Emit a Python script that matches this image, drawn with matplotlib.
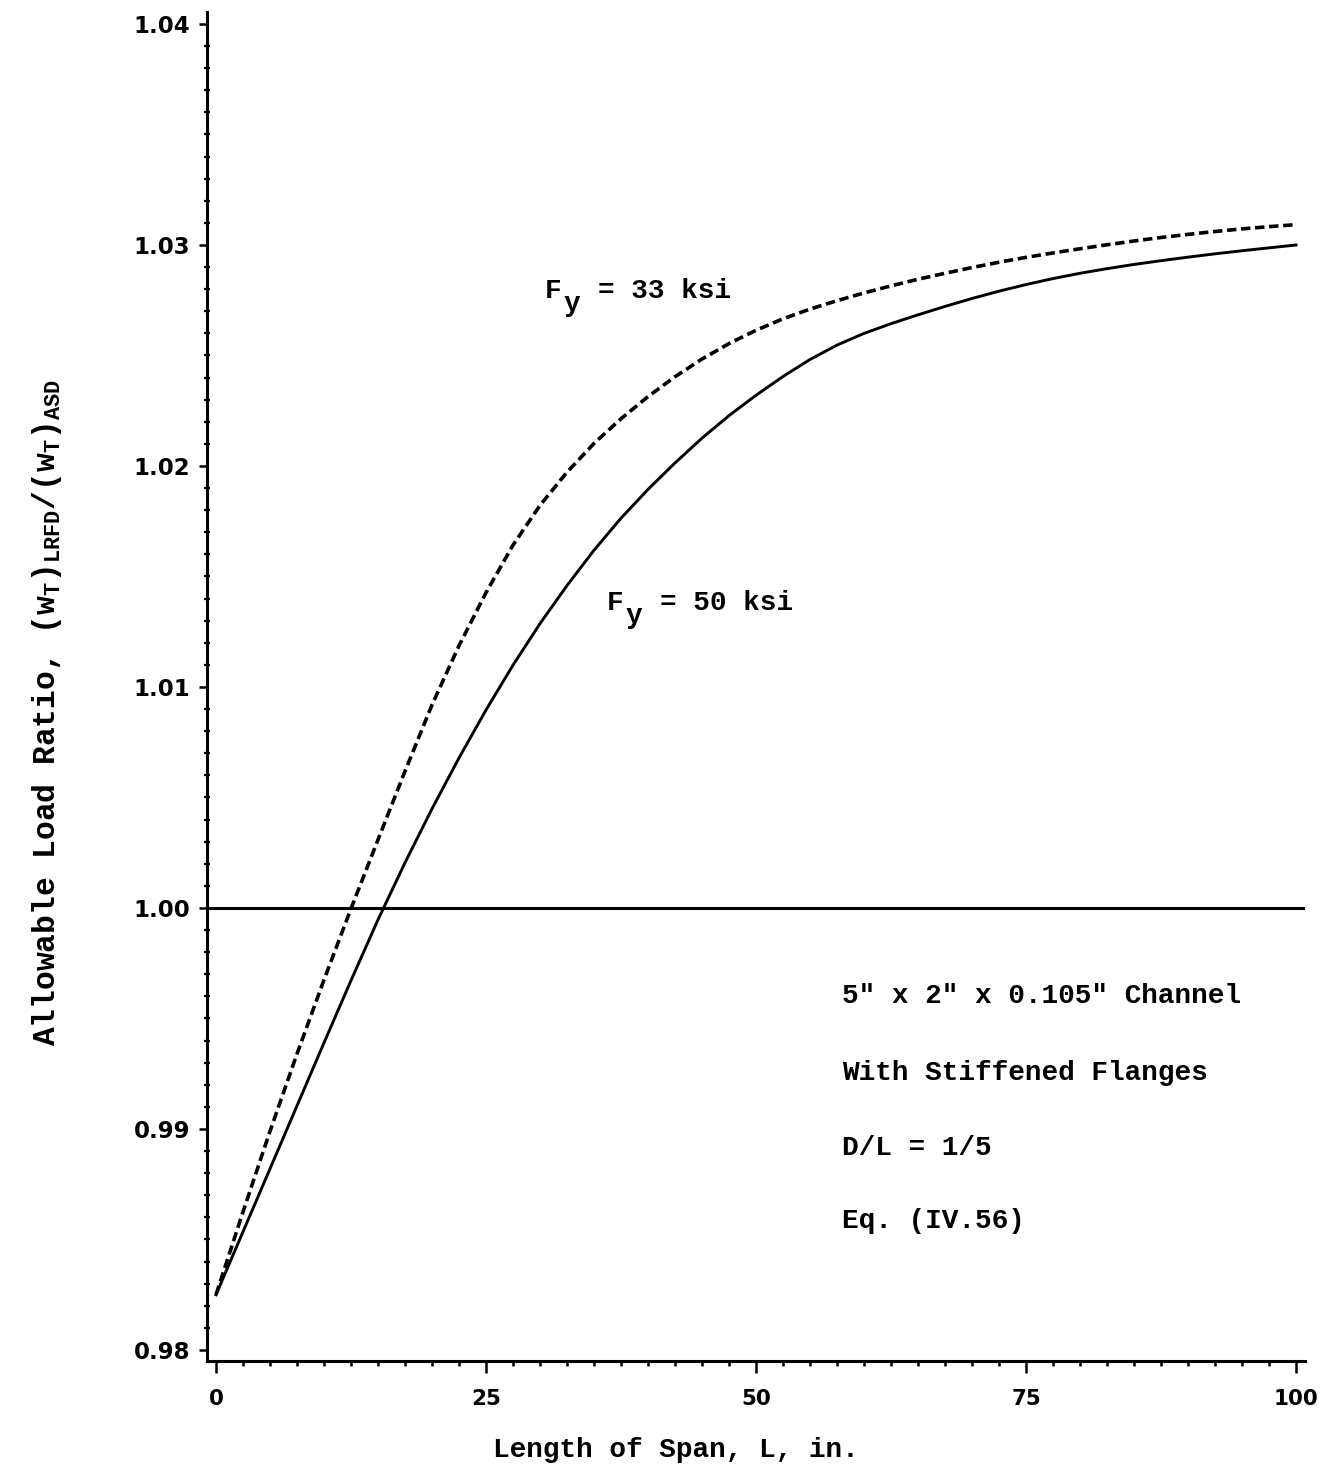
import matplotlib
matplotlib.use("Agg")
import matplotlib.pyplot as plt
from matplotlib.ticker import MultipleLocator, FormatStrFormatter
from matplotlib.transforms import offset_copy

# Span lengths (in.) and allowable load ratios (LRFD / ASD)
span = [0, 2.5, 5, 7.5, 10, 12.5, 15, 17.5, 20, 22.5, 25, 27.5, 30,
        32.5, 35, 37.5, 40, 42.5, 45, 47.5, 50, 52.5, 55, 57.5, 60,
        62.5, 65, 67.5, 70, 72.5, 75, 77.5, 80, 82.5, 85, 87.5, 90,
        92.5, 95, 97.5, 100]
ratio_fy33 = [0.98250, 0.98625, 0.98990, 0.99340, 0.99675, 0.99997,
              1.00309, 1.00619, 1.00919, 1.01187, 1.01427, 1.01642,
              1.01822, 1.01972, 1.02102, 1.02214, 1.02314, 1.02404,
              1.02484, 1.02554, 1.02614, 1.02666, 1.02710, 1.02748,
              1.02783, 1.02815, 1.02845, 1.02872, 1.02898, 1.02922,
              1.02944, 1.02964, 1.02983, 1.03001, 1.03018, 1.03034,
              1.03048, 1.03061, 1.03073, 1.03083, 1.03092]
ratio_fy50 = [0.98250, 0.98535, 0.98820, 0.99105, 0.99390, 0.99672,
              0.99947, 1.00205, 1.00449, 1.00679, 1.00896, 1.01099,
              1.01287, 1.01459, 1.01619, 1.01764, 1.01894, 1.02014,
              1.02126, 1.02228, 1.02320, 1.02405, 1.02482, 1.02547,
              1.02600, 1.02644, 1.02684, 1.02722, 1.02758, 1.02791,
              1.02821, 1.02848, 1.02872, 1.02893, 1.02912, 1.02929,
              1.02945, 1.02960, 1.02974, 1.02987, 1.03000]

x_ticks = [0, 25, 50, 75, 100]
y_ticks = [0.98, 0.99, 1.00, 1.01, 1.02, 1.03, 1.04]

label_33 = "= 33 ksi"
label_50 = "= 50 ksi"
section_notes = ['5" x 2" x 0.105" Channel',
                 "With Stiffened Flanges",
                 "D/L = 1/5",
                 "Eq. (IV.56)"]

MONO = "Liberation Mono"
plt.rcParams["mathtext.fontset"] = "custom"
plt.rcParams["mathtext.rm"] = MONO + ":bold"
plt.rcParams["mathtext.it"] = MONO + ":bold"
plt.rcParams["mathtext.bf"] = MONO + ":bold"

fig = plt.figure(figsize=(13.35, 14.64), dpi=100)
ax = fig.add_axes([0.15506, 0.07036, 0.82247, 0.92145])

ax.plot(span, ratio_fy50, color="black", lw=2.1)
ax.plot(span, ratio_fy33, color="black", lw=2.6, linestyle=(0, (2.6, 1.3)))
ax.axhline(1.0, color="black", lw=2.2)

ax.set_xlim(-0.833, 100.83)
ax.set_ylim(0.979502, 1.040543)

for side in ("top", "right"):
    ax.spines[side].set_visible(False)
for side in ("left", "bottom"):
    ax.spines[side].set_linewidth(2.2)

ax.set_xticks(x_ticks)
ax.set_yticks(y_ticks)
ax.xaxis.set_minor_locator(MultipleLocator(2.5))
ax.yaxis.set_minor_locator(MultipleLocator(0.001))
ax.yaxis.set_major_formatter(FormatStrFormatter("%.2f"))

ax.tick_params(axis="x", which="major", direction="out", length=8.5, width=1.8,
               pad=12, labelsize=15.5)
ax.tick_params(axis="x", which="minor", direction="out", length=3.5, width=1.8)
ax.tick_params(axis="y", which="major", direction="out", length=6, width=1.8,
               pad=6, labelsize=16.5)
ax.tick_params(axis="y", which="minor", direction="inout", length=4, width=1.6)
for lbl in ax.get_xticklabels() + ax.get_yticklabels():
    lbl.set_fontfamily("DejaVu Sans")
    lbl.set_fontweight("bold")

text_kw = dict(fontfamily=MONO, fontweight="bold", fontsize=20, color="black")

ax.set_xlabel("Length of Span, L, in.", **text_kw)
ax.xaxis.set_label_coords(0.427, -0.056)
ax.set_ylabel(r"Allowable Load Ratio, $\mathrm{(w_T)_{LRFD}/(w_T)_{ASD}}$",
              fontfamily=MONO, fontweight="bold", fontsize=22.5, color="black")
ax.yaxis.set_label_coords(-0.130, 0.481)

# Curve labels: F with a lowered full-size "y"
for x0, y0, txt in [(30.46, 1.0276, label_33), (36.2, 1.01348, label_50)]:
    ax.text(x0, y0, "F", **text_kw)
    sub = offset_copy(ax.transData, fig=fig, x=13.2, y=-9.5, units="points")
    ax.text(x0, y0, "y", transform=sub, **text_kw)
    rest = offset_copy(ax.transData, fig=fig, x=38.0, y=0, units="points")
    ax.text(x0, y0, txt, transform=rest, **text_kw)

note_y = [0.99570, 0.99222, 0.98882, 0.98552]
for line, yy in zip(section_notes, note_y):
    ax.text(58.0, yy, line, **text_kw)

fig.savefig("out.png", dpi=100, facecolor="white")
